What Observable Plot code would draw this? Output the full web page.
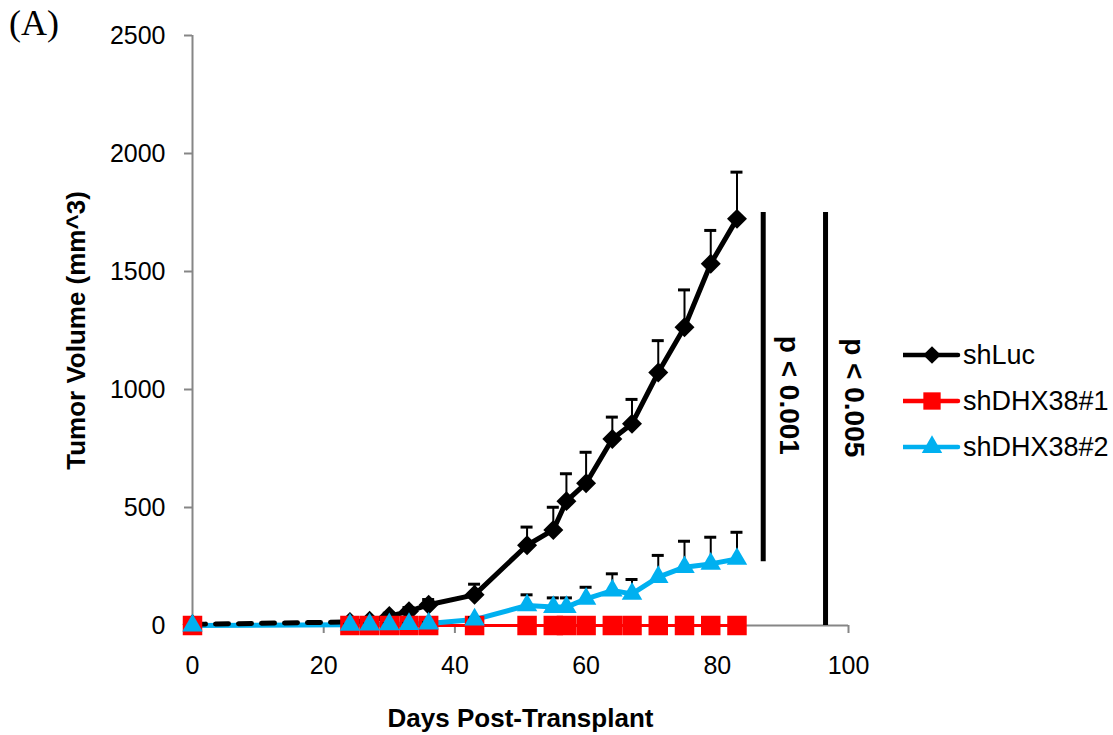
<!DOCTYPE html>
<html><head><meta charset="utf-8">
<script src="https://cdn.jsdelivr.net/npm/d3@7"></script>
<script src="https://cdn.jsdelivr.net/npm/@observablehq/plot@0.6"></script>
<style>
body{margin:0;background:#fff;}
#wrap{position:relative;width:1113px;height:735px;font-family:Arial,"Liberation Sans",sans-serif;background:#fff;overflow:hidden;}
#wrap svg.plot{position:absolute;left:0;top:0;}
#panel{position:absolute;left:9px;top:2px;font-family:"Liberation Serif","Times New Roman",serif;font-size:36px;line-height:42px;color:#000;}
.lrow{position:absolute;left:903px;height:30px;display:flex;align-items:center;font-size:27px;color:#000;white-space:nowrap;}
.lrow svg{display:block;margin-right:2px;}
</style></head><body>
<div id="wrap"><div id="panel">(A)</div></div>
<script>
// ---- data ----
const days = [0, 24, 27, 30, 33, 36, 43, 51, 55, 57, 60, 64, 67, 71, 75, 79, 83];
const shLuc = [5, 15, 20, 40, 60, 88, 130, 340, 405, 527, 603, 790, 855, 1072, 1264, 1533, 1723];
const shLucErr = [0, 6, 8, 12, 16, 22, 45, 77, 96, 116, 131, 93, 103, 135, 158, 141, 198];
const shDHX38_1 = [0, 0, 0, 0, 0, 0, 0, 0, 0, 0, 0, 0, 0, 0, 0, 0, 0];
const shDHX38_2 = [0, 3, 4, 5, 6, 8, 25, 85, 78, 78, 113, 148, 134, 205, 247, 261, 282];
const shDHX38_2Err = [0, 2, 2, 3, 3, 4, 8, 45, 39, 39, 49, 71, 61, 92, 110, 113, 113];
const seriesNames = ["shLuc", "shDHX38#1", "shDHX38#2"];
const seriesColors = ["#000000", "#FF0000", "#00B0F0"];
const xTicks = [0, 20, 40, 60, 80, 100];
const yTicks = [0, 500, 1000, 1500, 2000, 2500];
const xTitle = "Days Post-Transplant";
const yTitle = "Tumor Volume (mm^3)";
const sigLabels = ["p < 0.001", "p < 0.005"];
const sigX = [87, 96.5];
const sigTop = [1750, 1750];
const sigBottom = [270, 0];
const sigTextX = [90.9, 100.8];
const sigTextY = [975, 965];

// ---- tables ----
const mk = (vals, errs) => days.map((d, i) => ({day: d, v: vals[i], e: errs ? errs[i] : 0}));
const luc = mk(shLuc, shLucErr);
const dhx1 = mk(shDHX38_1);
const dhx2 = mk(shDHX38_2, shDHX38_2Err);
const sig = sigLabels.map((t, i) => ({t, x: sigX[i], y1: sigBottom[i], y2: sigTop[i], tx: sigTextX[i], ty: sigTextY[i]}));

const errMarks = (data) => [
  Plot.ruleX(data.filter(d => d.e > 0), {x: "day", y1: "v", y2: d => d.v + d.e, stroke: "black", strokeWidth: 2}),
  Plot.ruleY(data.filter(d => d.e > 0), {x1: "day", x2: "day", y: d => d.v + d.e, stroke: "black", strokeWidth: 3, insetLeft: -6, insetRight: -6})
];

const chart = Plot.plot({
  width: 1113, height: 735,
  marginLeft: 192, marginRight: 265, marginTop: 35, marginBottom: 110,
  x: {domain: [0, 100]},
  y: {domain: [0, 2500]},
  style: {fontFamily: "Arial, 'Liberation Sans', sans-serif", fontSize: "25px", color: "black", background: "transparent", overflow: "visible"},
  marks: [
    Plot.ruleY([0], {stroke: "#868686", strokeWidth: 2}),
    Plot.ruleX([0], {stroke: "#868686", strokeWidth: 2}),
    Plot.axisX({ticks: xTicks, tickSize: 8, tickPadding: 23, stroke: "#868686", strokeWidth: 2, fill: "black", fontSize: 25, label: null, tickFormat: d => String(d)}),
    Plot.axisY({ticks: yTicks, tickSize: 8, tickPadding: 19, stroke: "#868686", strokeWidth: 2, fill: "black", fontSize: 25, label: null, tickFormat: d => String(d)}),
    Plot.text([xTitle], {frameAnchor: "bottom", dy: 93, textAnchor: "middle", lineAnchor: "middle", fontWeight: "bold", fontSize: 26, fill: "black"}),
    Plot.text([yTitle], {frameAnchor: "left", dx: -116, rotate: -90, textAnchor: "middle", lineAnchor: "middle", fontWeight: "bold", fontSize: 26, fill: "black"}),
    // significance bars
    Plot.ruleX(sig, {x: "x", y1: "y1", y2: "y2", stroke: "black", strokeWidth: 5}),
    Plot.text(sig, {x: "tx", y: "ty", text: "t", rotate: 90, fontWeight: "bold", fontSize: 28, fill: "black"}),
    // lines
    Plot.line(dhx1, {x: "day", y: "v", stroke: seriesColors[1], strokeWidth: 3}),
    Plot.line(dhx2, {x: "day", y: "v", stroke: seriesColors[2], strokeWidth: 5, strokeLinejoin: "round"}),
    Plot.line(luc.filter(d => d.day <= 24), {x: "day", y: "v", stroke: seriesColors[0], strokeWidth: 5, strokeDasharray: "13,10", strokeLinecap: "round"}),
    Plot.line(luc.filter(d => d.day >= 24), {x: "day", y: "v", stroke: seriesColors[0], strokeWidth: 5, strokeLinejoin: "round"}),
    ...errMarks(luc),
    Plot.dot(luc, {x: "day", y: "v", symbol: "diamond2", r: 9, fill: seriesColors[0], stroke: "none"}),
    Plot.dot(dhx1, {x: "day", y: "v", symbol: "square", r: 11, fill: seriesColors[1], stroke: "none"}),
    ...errMarks(dhx2),
    Plot.dot(dhx2, {x: "day", y: "v", symbol: "triangle", r: 7.6, fill: seriesColors[2], stroke: "none"})
  ]
});
chart.classList.add("plot");
const wrap = document.getElementById("wrap");
wrap.appendChild(chart);

// legend
const legendY = [355, 401, 447];
const symSizes = [200, 300, 180];
const symTypes = [d3.symbolDiamond2, d3.symbolSquare, d3.symbolTriangle];
seriesNames.forEach((name, i) => {
  const row = document.createElement("div");
  row.className = "lrow";
  row.style.top = (legendY[i] - 15) + "px";
  const s = d3.create("svg").attr("width", 58).attr("height", 30);
  s.append("line").attr("x1", 0).attr("x2", 55).attr("y1", 15).attr("y2", 15)
    .attr("stroke", seriesColors[i]).attr("stroke-width", 4.5).attr("stroke-linecap", "round");
  s.append("path").attr("transform", "translate(29,15)")
    .attr("d", d3.symbol(symTypes[i], symSizes[i])()).attr("fill", seriesColors[i]);
  row.appendChild(s.node());
  const t = document.createElement("span");
  t.textContent = name;
  row.appendChild(t);
  wrap.appendChild(row);
});
</script>
</body></html>
